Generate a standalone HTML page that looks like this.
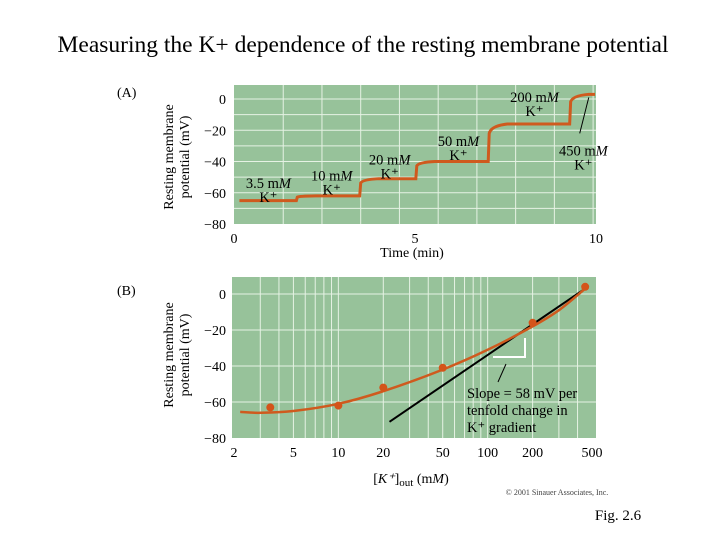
<!DOCTYPE html>
<html><head><meta charset="utf-8"><style>
body{margin:0;background:#fff;width:720px;height:540px;overflow:hidden;font-family:"Liberation Serif",serif}
svg text{font-family:"Liberation Serif",serif}
</style></head><body>
<svg id="s" width="720" height="540">
<text x="363" y="52" font-size="23.5" text-anchor="middle">Measuring the K+ dependence of the resting membrane potential</text>
<text x="117" y="97" font-size="14">(A)</text>
<text x="117" y="295" font-size="14">(B)</text>
<text x="618" y="520" font-size="15" text-anchor="middle">Fig. 2.6</text>
<text x="557" y="495" font-size="8" font-family="Liberation Mono" text-anchor="middle" fill="#444">© 2001 Sinauer Associates, Inc.</text>
<g id="A"></g>
<g id="B"></g>
</svg>
<script>
// Panel A data
const aSteps=[0.15,1.75,3.5,5.05,7.05,9.3,10];
const aLevels=[-65,-62,-51,-40,-16,3];
const aXTicks=[0,5,10];
const aYTicks=[0,-20,-40,-60,-80];
const aLabels=[["3.5 m","M",0.95,-57],["10 m","M",2.7,-52],["20 m","M",4.3,-42],["50 m","M",6.2,-30],["200 m","M",8.3,-2],["450 m","M",9.65,-36]];
// Panel B data
const bConc=[3.5,10,20,50,200,450];
const bVm=[-63,-62,-52,-41,-16,4];
const bCurveX=[2.2,3,5,10,20,50,100,200,300,450];
const bCurveY=[-65.5,-66,-65,-61,-54,-42,-31,-18,-9,3];
const bSlopeLine=[[22,-71],[450,3]];
const bXTicks=[2,5,10,20,50,100,200,500];
const bYTicks=[0,-20,-40,-60,-80];

const NS="http://www.w3.org/2000/svg";
function mk(p,t,a,txt){const e=document.createElementNS(NS,t);for(const k in a)e.setAttribute(k,a[k]);if(txt!==undefined)e.textContent=txt;p.appendChild(e);return e;}
const GREEN="#97c29a",OR="#cf5a1e",GRID="#e6f2e4";
// ---- Panel A
const A=document.getElementById('A');
const ax=v=>234+(v/10)*362, ay=v=>99-(v/20)*31.25;
mk(A,'rect',{x:234,y:85,width:362,height:139,fill:GREEN});
for(let v=-70;v<=0;v+=10)mk(A,'line',{x1:234,x2:596,y1:ay(v),y2:ay(v),stroke:GRID,'stroke-width':1});
for(let k=0;k<9;k++){const t=1.36+k*1.07;mk(A,'line',{x1:ax(t),x2:ax(t),y1:85,y2:224,stroke:GRID,'stroke-width':1});}
let d=`M${ax(aSteps[0])},${ay(aLevels[0])}`;
for(let i=0;i<aLevels.length;i++){
 const x0=aSteps[i],x1=aSteps[i+1],y=aLevels[i];
 if(i>0){const yp=aLevels[i-1];d+=` L${ax(x0)},${ay(yp+(y-yp)*0.75)} Q${ax(x0+0.05)},${ay(y+(yp-y)*0.05)} ${ax(x0+0.5)},${ay(y)}`;}
 d+=` L${ax(x1)-1},${ay(y)}`;
}
const ta=mk(A,'path',{d:d,fill:'none',stroke:OR,'stroke-width':3});


for(const l of aLabels){
 const t=mk(A,'text',{x:ax(l[2]),y:ay(l[3]),'font-size':14.5,'text-anchor':'middle'});t.textContent=l[0];mk(t,'tspan',{'font-style':'italic'},l[1]);
 
 
 mk(A,'text',{x:ax(l[2]),y:ay(l[3])+14,'font-size':14.5,'text-anchor':'middle'},'K⁺');
}
mk(A,'line',{x1:ax(9.55),y1:ay(-22),x2:ax(9.8),y2:ay(1),stroke:'#000','stroke-width':1});
for(const v of aYTicks)mk(A,'text',{x:226,y:ay(v)+5,'font-size':14,'text-anchor':'end'},v===0?'0':'−'+(-v));
for(const v of aXTicks)mk(A,'text',{x:ax(v),y:243,'font-size':14,'text-anchor':'middle'},v);
mk(A,'text',{x:412,y:257,'font-size':14,'text-anchor':'middle'},'Time (min)');
mk(A,'text',{transform:'translate(173,157) rotate(-90)','font-size':14,'text-anchor':'middle'},'Resting membrane');
mk(A,'text',{transform:'translate(189,157) rotate(-90)','font-size':14,'text-anchor':'middle'},'potential (mV)');
// ---- Panel B
const B=document.getElementById('B');
const bx=v=>234+Math.log10(v/2)*149.3, by=v=>294-(v/20)*36;
mk(B,'rect',{x:232,y:277,width:364,height:161,fill:GREEN});
for(let v=-60;v<=0;v+=20)mk(B,'line',{x1:232,x2:596,y1:by(v),y2:by(v),stroke:GRID,'stroke-width':1});
for(const dec of [1,10,100])for(let m=1;m<10;m++){const v=dec*m;if(v<=2||v>=500)continue;mk(B,'line',{x1:bx(v),x2:bx(v),y1:277,y2:438,stroke:GRID,'stroke-width':1});}
const sl=mk(B,'line',{x1:bx(bSlopeLine[0][0]),y1:by(bSlopeLine[0][1]),x2:bx(bSlopeLine[1][0]),y2:by(bSlopeLine[1][1]),stroke:'#000','stroke-width':2});


// smooth curve (Catmull-Rom)
const P=bCurveX.map((x,i)=>[bx(x),by(bCurveY[i])]);
let cd=`M${P[0][0]},${P[0][1]}`;
for(let i=0;i<P.length-1;i++){const p0=P[Math.max(0,i-1)],p1=P[i],p2=P[i+1],p3=P[Math.min(P.length-1,i+2)];
 cd+=` C${p1[0]+(p2[0]-p0[0])/6},${p1[1]+(p2[1]-p0[1])/6} ${p2[0]-(p3[0]-p1[0])/6},${p2[1]-(p3[1]-p1[1])/6} ${p2[0]},${p2[1]}`;}
const cv=mk(B,'path',{d:cd,fill:'none',stroke:OR,'stroke-width':2.5,'stroke-linejoin':'round'});


bConc.forEach((c,i)=>{const p=mk(B,'circle',{cx:bx(c),cy:by(bVm[i]),r:4,fill:'#d4541a'});
 
 });
mk(B,'path',{d:'M493,357 H525 V338',fill:'none',stroke:'#fff','stroke-width':2});
mk(B,'line',{x1:506,y1:364,x2:498,y2:382,stroke:'#000','stroke-width':1});
['Slope = 58 mV per','tenfold change in','K⁺ gradient'].forEach((t,i)=>mk(B,'text',{x:467,y:398+i*17,'font-size':14.5},t));
for(const v of bYTicks)mk(B,'text',{x:226,y:by(v)+5,'font-size':14,'text-anchor':'end'},v===0?'0':'−'+(-v));
for(const v of bXTicks)mk(B,'text',{x:bx(v),y:457,'font-size':14,'text-anchor':'middle'},v);
const xl=mk(B,'text',{x:411,y:483,'font-size':14,'text-anchor':'middle'});
xl.textContent='[';mk(xl,'tspan',{'font-style':'italic'},'K⁺');mk(xl,'tspan',{},']');mk(xl,'tspan',{'font-size':11,dy:3},'out');mk(xl,'tspan',{dy:-3},' (m');mk(xl,'tspan',{'font-style':'italic'},'M');mk(xl,'tspan',{},')');
mk(B,'text',{transform:'translate(173,355) rotate(-90)','font-size':14,'text-anchor':'middle'},'Resting membrane');
mk(B,'text',{transform:'translate(189,355) rotate(-90)','font-size':14,'text-anchor':'middle'},'potential (mV)');
</script>
</body></html>
